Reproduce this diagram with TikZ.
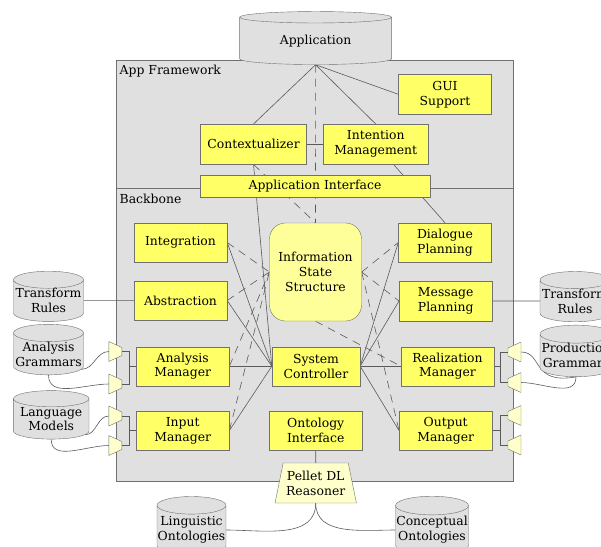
\documentclass[tikz,border=0pt]{standalone}
\usepackage{fontspec}
\setmainfont{DejaVu Serif}
\usetikzlibrary{shapes.geometric, positioning}
\definecolor{BoxYellow}{RGB}{255,255,102}
\definecolor{StateYellow}{RGB}{255,255,153}
\definecolor{PaleYellow}{RGB}{255,255,204}
\definecolor{PanelGrey}{RGB}{224,224,224}
\definecolor{EdgeGrey}{RGB}{112,112,112}
\definecolor{LinkGrey}{RGB}{90,90,90}
\pgfdeclarelayer{panel}
\pgfdeclarelayer{wire}
\pgfsetlayers{panel,wire,main}

\begin{document}
\begin{tikzpicture}[x=1pt, y=-1pt,
    every node/.style={font=\fontsize{12.4}{14.8}\selectfont, align=center},
    module/.style={rectangle, draw=EdgeGrey, fill=BoxYellow, inner sep=0pt, minimum width=93pt, minimum height=39pt},
    store/.style={cylinder, shape border rotate=90, draw=EdgeGrey, fill=PanelGrey, aspect=0.26, inner sep=0pt},
    portface/.style={draw=EdgeGrey, fill=PaleYellow, line join=round},
    link/.style={draw=LinkGrey, line width=0.6pt},
    statelink/.style={link, dash pattern=on 8pt off 6pt}]
    \useasboundingbox (0,0) rectangle (601,546);
    \clip (0,0) rectangle (601,546);

    % panels
    \begin{pgfonlayer}{panel}
        \draw[draw=EdgeGrey, fill=PanelGrey] (116.5,60.5) rectangle (513.5,188);
        \draw[draw=EdgeGrey, fill=PanelGrey] (116.5,188) rectangle (513.5,481.5);
    \end{pgfonlayer}
    \node[anchor=west, inner sep=0pt] (fwlabel) at (119.5,71) {App Framework};
    \node[anchor=west, inner sep=0pt] (bblabel) at (119.5,198.5) {Backbone};

    % framework
    \node[store, aspect=0.16, minimum width=152pt, minimum height=53pt] (app) at (315.6,41) {Application};
    \node[module, minimum width=93pt, minimum height=40pt] (gui) at (445,94.3) {GUI\\Support};
    \node[module, minimum width=106pt, minimum height=40pt] (ctx) at (253.5,144.2) {Contextualizer};
    \node[module, minimum width=105.5pt, minimum height=40pt] (im) at (375.7,144.2) {Intention\\Management};
    \node[module, minimum width=230pt, minimum height=22.6pt] (ai) at (315,186) {Application Interface};

    % backbone
    \node[module] (integ) at (180.5,242.5) {Integration};
    \node[module] (abstr) at (180.5,300.5) {Abstraction};
    \node[module] (anam) at (182.7,366.2) {Analysis\\Manager};
    \node[module] (inm) at (182.7,430.5) {Input\\Manager};
    \node[module, fill=StateYellow, rounded corners=16pt, minimum width=92pt, minimum height=98pt] (iss) at (315.5,272) {Information\\State\\Structure};
    \node[module, minimum width=88pt] (sc) at (316,366.2) {System\\Controller};
    \node[module] (oi) at (315.7,430.5) {Ontology\\Interface};
    \node[module] (dp) at (445,242.5) {Dialogue\\Planning};
    \node[module, minimum height=40pt] (mp) at (445.7,301) {Message\\Planning};
    \node[module] (rm) at (447.5,366.2) {Realization\\Manager};
    \node[module] (om) at (445.7,430.5) {Output\\Manager};
    \node[trapezium, draw=EdgeGrey, fill=PaleYellow, inner sep=0pt, trapezium angle=73, trapezium stretches=true, minimum width=81.5pt, minimum height=40pt] (pel) at (315.7,483) {Pellet DL\\Reasoner};

    % ports (wide side faces the stores)
    \foreach \n/\x/\y/\s in {pl1/115.3/351.5/1, pl2/115.3/384/1, pl3/115.3/416/1, pl4/115.3/445.5/1,
                             pr1/514.5/352/-1, pr2/514.5/382.5/-1, pr3/514.5/415.5/-1, pr4/514.5/445/-1} {
        \draw[portface] (\x-6.5*\s,\y-10) -- (\x+6.5*\s,\y-4) -- (\x+6.5*\s,\y+4) -- (\x-6.5*\s,\y+10) -- cycle;
        \coordinate (\n-inner) at (\x+6.5*\s,\y);
        \coordinate (\n-outer) at (\x-6.5*\s,\y);
    }
    \coordinate (anajoin) at (129.3,366.2);
    \coordinate (injoin) at (129.3,430.5);
    \coordinate (rmjoin) at (500.5,366.2);
    \coordinate (omjoin) at (500.5,430.5);

    % stores
    \node[store, minimum width=70pt, minimum height=44.5pt] (trl) at (48.5,300.7) {Transform\\Rules};
    \node[store, minimum width=70pt, minimum height=45pt] (ag) at (48.5,354) {Analysis\\Grammars};
    \node[store, minimum width=75.6pt, minimum height=48pt] (lm) at (51.2,419) {Language\\Models};
    \node[store, minimum width=70pt, minimum height=45pt] (trr) at (575,301) {Transform\\Rules};
    \node[store, minimum width=72pt, minimum height=49pt] (pg) at (576,355.5) {Production\\Grammars};
    \node[store, minimum width=69pt, minimum height=58pt] (lo) at (191.5,530) {Linguistic\\Ontologies};
    \node[store, minimum width=73pt, minimum height=58pt] (co) at (432,530) {Conceptual\\Ontologies};

    \begin{pgfonlayer}{wire}
        \draw[link] (app.south) -- (ctx.north);
        \draw[link] (app.south) -- (im.north);
        \draw[link] (app.south) -- (gui.west);
        \draw[link] (ctx) -- (im);
        \draw[link] (im) -- (dp.north);
        \draw[link] (ctx.south) -- (sc.west);
        \foreach \m in {integ, abstr, anam, inm}
            \draw[link] (\m.east) -- (sc.west);
        \foreach \m in {dp, mp, rm, om}
            \draw[link] (sc.east) -- (\m.west);
        \draw[link] (oi) -- (pel);
        \draw[link] (trl) -- (abstr);
        \draw[link] (mp) -- (trr);
        \draw[link] (pel.south) to[out=-90, in=0] (lo.east);
        \draw[link] (pel.south) to[out=-90, in=180] (co.west);
        % dashed state access
        \draw[statelink] (app.south) -- (iss.north);
        \draw[statelink] (ctx.south) -- (iss.north);
        \foreach \m in {integ, abstr, anam, inm}
            \draw[statelink] (\m.east) -- (iss.west);
        \foreach \m in {dp, mp, om}
            \draw[statelink] (iss.east) -- (\m.west);
        \draw[statelink] (iss.south) -- (rm.west);
        % port brackets
        \draw[link] (pl1-inner) -| (anajoin) |- (pl2-inner);
        \draw[link] (anajoin) -- (anam.west);
        \draw[link] (pl3-inner) -| (injoin) |- (pl4-inner);
        \draw[link] (injoin) -- (inm.west);
        \draw[link] (pr1-inner) -| (rmjoin) |- (pr2-inner);
        \draw[link] (rmjoin) -- (rm.east);
        \draw[link] (pr3-inner) -| (omjoin) |- (pr4-inner);
        \draw[link] (omjoin) -- (om.east);
        % grammar feeds
        \draw[link] (ag.-25) to[out=0, in=180] (pl1-outer);
        \draw[link] (ag.south) to[out=-90, in=180] (pl2-outer);
        \draw[link] (lm.-25) to[out=0, in=180] (pl3-outer);
        \draw[link] (lm.south) to[out=-90, in=180] (pl4-outer);
        \draw[link] (pr1-outer) .. controls +(22,0) and +(-45,8) .. (pg.south);
        \draw[link] (pr2-outer) to[out=0, in=-90] (pg.south);
    \end{pgfonlayer}
\end{tikzpicture}
\end{document}
